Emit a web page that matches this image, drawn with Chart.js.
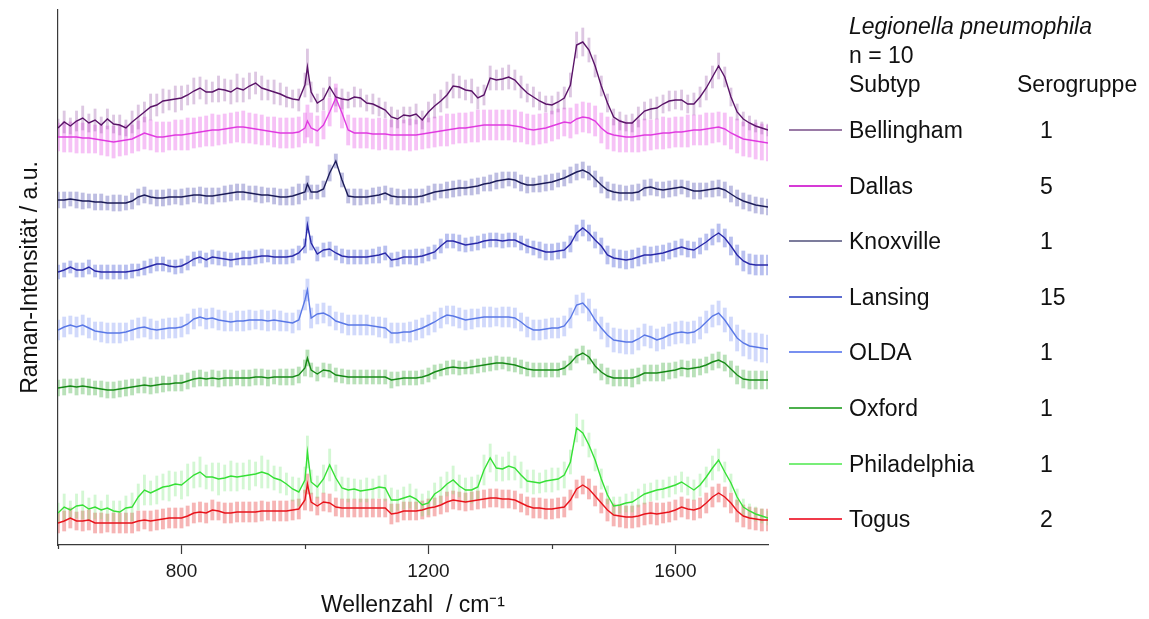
<!DOCTYPE html>
<html>
<head>
<meta charset="utf-8">
<title>Legionella pneumophila – Raman</title>
<script src="https://cdn.jsdelivr.net/npm/chart.js@4.4.1/dist/chart.umd.min.js"></script>
<style>
  html, body { margin: 0; padding: 0; background: #fff; }
  #wrap { position: relative; width: 1149px; height: 619px; font-family: 'Liberation Sans', Arial, sans-serif; color: #111; }
  #spectra { position: absolute; left: 0; top: 0; }
  .lg { position: absolute; font-size: 23px; line-height: 23px; white-space: nowrap; }
  .lg-line { position: absolute; height: 0; border-top: 2px solid; width: 53px; }
</style>
</head>
<body>
<div id="wrap">
  <canvas id="spectra" width="1149" height="619"></canvas>
  <div id="legend"></div>
</div>
<script>
/* Mean Raman spectra (stacked, a.u.) with ±SD bars per Legionella pneumophila subtype */

// ── Data ────────────────────────────────────────────────────

const wavenumbers = [
  600, 610, 620, 630, 640, 650, 660, 670, 680, 690,
  700, 710, 720, 730, 740, 750, 760, 770, 780, 790,
  800, 810, 820, 830, 840, 850, 860, 870, 880, 890,
  900, 910, 920, 930, 940, 950, 960, 970, 980, 990,
  1000, 1004,
  1010, 1020, 1030, 1040, 1050, 1060, 1070, 1080, 1090,
  1100, 1110, 1120, 1130, 1140, 1150, 1160, 1170, 1180, 1190,
  1200, 1210, 1220, 1230, 1240, 1250, 1260, 1270, 1280, 1290,
  1300, 1310, 1320, 1330, 1340, 1350, 1360, 1370, 1380, 1390,
  1400, 1410, 1420, 1430, 1440, 1450, 1460, 1470, 1480, 1490,
  1500, 1510, 1520, 1530, 1540, 1550, 1560, 1570, 1580, 1590,
  1600, 1610, 1620, 1630, 1640, 1650, 1660, 1670, 1680, 1690,
  1700, 1710, 1720, 1730, 1740, 1750
];

const bellingham = [
  417, 423, 419, 424, 427, 422, 425, 420, 426, 421,
  420, 417, 423, 428, 433, 438, 440, 444, 445, 446,
  447, 450, 454, 457, 453, 453, 456, 455, 453, 457,
  455, 459, 462, 457, 455, 453, 451, 448, 446, 445,
  460, 478,
  453, 442, 446, 458, 448, 446, 445, 448, 447,
  442, 441, 438, 435, 428, 426, 430, 429, 431, 425,
  433, 439, 444, 450, 459, 458, 455, 454, 447, 450,
  467, 465, 466, 468, 465, 458, 452, 448, 444, 441,
  440, 443, 447, 460, 500, 503, 495, 479, 459, 442,
  428, 424, 422, 422, 428, 434, 436, 437, 441, 444,
  445, 445, 441, 441, 448, 457, 468, 479, 468, 448,
  433, 426, 422, 419, 417, 415
];
const sdBellingham = [
  9, 11, 8, 10, 12, 9, 11, 8, 10, 9,
  10, 8, 11, 12, 10, 13, 11, 12, 10, 13,
  12, 10, 13, 11, 12, 10, 13, 11, 12, 14,
  12, 13, 11, 12, 10, 12, 11, 10, 9, 11,
  12, 18,
  10, 9, 11, 10, 9, 10, 8, 10, 9,
  8, 10, 9, 8, 10, 9, 8, 9, 10, 9,
  10, 12, 11, 13, 12, 11, 10, 12, 11, 10,
  12, 10, 11, 12, 10, 11, 9, 10, 9, 8,
  9, 10, 11, 12, 13, 14, 12, 11, 10, 9,
  8, 9, 8, 9, 10, 9, 10, 11, 9, 10,
  9, 10, 9, 11, 10, 12, 11, 13, 10, 9,
  8, 7, 7, 6, 6, 6
];

const dallas = [
  408, 408, 408, 408, 407, 407, 406, 405, 404, 403,
  404, 405, 406, 409, 412, 410, 408, 408, 409, 410,
  410, 411, 412, 413, 414, 415, 415, 416, 417, 418,
  418, 417, 416, 415, 414, 413, 412, 412, 412, 413,
  417, 424,
  417, 414, 420, 433, 447, 432, 415, 412, 412,
  412, 411, 411, 411, 410, 410, 410, 410, 410, 411,
  412, 413, 414, 415, 416, 417, 417, 418, 419, 420,
  420, 420, 420, 420, 419, 418, 416, 415, 416, 417,
  419, 421, 423, 422, 426, 428, 427, 424, 417, 412,
  410, 409, 408, 408, 409, 410, 410, 411, 412, 412,
  413, 413, 414, 415, 415, 416, 417, 418, 416, 412,
  409, 406, 405, 404, 403, 402
];
const sdDallas = [
  14, 15, 15, 16, 15, 15, 14, 15, 15, 16,
  15, 15, 14, 15, 16, 15, 15, 15, 14, 15,
  15, 16, 15, 15, 15, 16, 15, 15, 15, 15,
  16, 15, 15, 15, 14, 15, 15, 15, 15, 15,
  15, 16,
  15, 15, 14, 14, 14, 15, 15, 15, 15,
  15, 15, 16, 15, 15, 15, 15, 16, 15, 15,
  15, 15, 15, 16, 15, 15, 15, 15, 16, 15,
  15, 15, 15, 15, 16, 15, 15, 15, 15, 15,
  15, 15, 14, 15, 15, 15, 15, 15, 15, 16,
  16, 16, 15, 15, 16, 16, 15, 15, 16, 15,
  15, 15, 16, 15, 15, 16, 15, 15, 16, 16,
  17, 17, 17, 18, 18, 18
];

const knoxville = [
  345, 345, 346, 345, 344, 344, 343, 343, 342, 342,
  342, 342, 344, 348, 350, 348, 347, 347, 348, 348,
  348, 349, 350, 350, 349, 349, 350, 351, 352, 353,
  353, 352, 351, 350, 350, 349, 348, 348, 349, 351,
  353, 361,
  353, 353, 356, 372, 384, 365, 349, 348, 348,
  348, 349, 350, 352, 349, 348, 348, 348, 348, 349,
  351, 353, 354, 355, 356, 357, 357, 358, 359, 361,
  362, 364, 365, 366, 365, 362, 360, 360, 361, 362,
  363, 365, 367, 370, 373, 375, 372, 366, 360, 355,
  353, 352, 352, 352, 353, 357, 358, 356, 355, 356,
  357, 358, 356, 354, 354, 355, 356, 357, 355, 351,
  347, 344, 342, 340, 339, 338
];
const sdKnoxville = [
  8, 8, 7, 8, 8, 7, 8, 8, 7, 8,
  8, 7, 8, 8, 8, 7, 8, 8, 8, 7,
  8, 8, 7, 8, 8, 8, 7, 8, 8, 8,
  8, 7, 8, 8, 7, 8, 8, 8, 9, 10,
  8, 8,
  7, 7, 8, 8, 7, 7, 7, 8, 8,
  7, 8, 8, 7, 8, 8, 7, 8, 8, 7,
  8, 8, 7, 8, 8, 8, 7, 8, 8, 7,
  8, 8, 8, 7, 8, 8, 8, 7, 8, 8,
  8, 7, 8, 8, 8, 8, 7, 8, 8, 8,
  8, 8, 7, 8, 8, 8, 8, 7, 8, 8,
  8, 7, 8, 8, 8, 7, 8, 8, 8, 8,
  8, 8, 8, 8, 8, 8
];

const lansing = [
  273, 275, 278, 275, 275, 278, 274, 273, 273, 273,
  273, 273, 274, 275, 277, 279, 281, 281, 279, 278,
  279, 282, 286, 288, 285, 288, 287, 286, 285, 286,
  287, 287, 288, 289, 289, 288, 288, 288, 289, 292,
  299, 320,
  302, 291, 295, 296, 292, 289, 288, 288, 288,
  288, 289, 290, 292, 285, 286, 288, 288, 288, 289,
  291, 293, 299, 304, 304, 302, 300, 301, 302, 304,
  305, 305, 304, 305, 305, 302, 299, 297, 295, 293,
  293, 294, 295, 301, 312, 317, 312, 305, 299, 290,
  287, 286, 285, 286, 288, 290, 290, 291, 292, 294,
  296, 298, 296, 295, 299, 303, 308, 312, 307, 299,
  290, 284, 281, 280, 280, 280
];
const sdLansing = [
  7, 7, 6, 7, 7, 7, 6, 7, 7, 7,
  7, 7, 7, 6, 7, 7, 7, 7, 6, 7,
  7, 7, 7, 6, 7, 7, 7, 7, 7, 6,
  7, 7, 7, 7, 6, 7, 7, 7, 7, 7,
  7, 8,
  7, 7, 7, 7, 7, 7, 7, 7, 7,
  7, 7, 8, 7, 7, 7, 7, 7, 8, 7,
  7, 7, 7, 7, 7, 8, 7, 7, 7, 7,
  7, 7, 7, 7, 7, 7, 7, 7, 8, 8,
  8, 8, 8, 8, 8, 8, 8, 8, 8, 9,
  9, 9, 9, 9, 9, 9, 8, 8, 8, 8,
  8, 8, 8, 8, 8, 8, 8, 9, 9, 9,
  10, 10, 10, 10, 10, 10
];

const olda = [
  215, 218, 220, 218, 220, 217, 214, 213, 212, 212,
  212, 213, 215, 217, 218, 216, 215, 216, 217, 217,
  218, 221, 226, 228, 226, 227, 225, 224, 223, 224,
  224, 225, 225, 225, 224, 225, 224, 223, 222, 225,
  245, 255,
  227, 231, 232, 229, 224, 222, 220, 220, 220,
  220, 219, 218, 217, 212, 212, 213, 213, 215, 217,
  220, 223, 227, 230, 229, 227, 225, 226, 227, 228,
  228, 228, 228, 228, 227, 223, 218, 215, 215, 216,
  217, 217, 219, 227, 240, 242, 235, 225, 217, 210,
  205, 204, 203, 203, 206, 210, 208, 205, 207, 210,
  212, 213, 212, 213, 217, 223, 229, 232, 225, 216,
  207, 202, 199, 198, 197, 196
];
const sdOlda = [
  10, 10, 9, 10, 10, 10, 9, 10, 10, 10,
  10, 9, 10, 10, 10, 10, 9, 10, 10, 10,
  10, 10, 10, 9, 10, 10, 10, 10, 9, 10,
  10, 10, 9, 10, 10, 10, 10, 9, 10, 10,
  10, 11,
  10, 10, 10, 10, 9, 10, 10, 10, 10,
  10, 9, 10, 10, 10, 10, 9, 10, 10, 10,
  10, 10, 10, 9, 10, 10, 10, 10, 9, 10,
  10, 9, 10, 10, 10, 9, 10, 10, 10, 10,
  10, 10, 10, 10, 10, 10, 11, 11, 11, 12,
  12, 12, 12, 12, 11, 11, 11, 11, 11, 11,
  11, 11, 11, 11, 11, 11, 11, 12, 12, 12,
  13, 13, 13, 14, 14, 14
];

const oxford = [
  157, 158, 159, 158, 159, 158, 157, 156, 155, 155,
  156, 157, 158, 159, 160, 159, 160, 161, 161, 162,
  162, 164, 166, 167, 166, 167, 166, 167, 167, 167,
  167, 167, 168, 168, 167, 168, 168, 168, 168, 170,
  177, 187,
  175, 171, 175, 174, 170, 169, 168, 168, 168,
  168, 168, 168, 168, 165, 166, 167, 167, 167, 168,
  170, 173, 175, 177, 178, 177, 177, 178, 179, 180,
  181, 182, 182, 181, 180, 178, 176, 175, 175, 175,
  175, 175, 177, 182, 189, 192, 188, 179, 173, 169,
  167, 167, 167, 167, 169, 172, 172, 172, 173, 174,
  175, 177, 176, 177, 178, 180, 183, 185, 182, 176,
  170, 166, 165, 165, 165, 165
];
const sdOxford = [
  8, 8, 7, 8, 8, 8, 7, 8, 8, 8,
  8, 8, 8, 7, 8, 8, 8, 8, 7, 8,
  8, 8, 8, 8, 7, 8, 8, 8, 8, 7,
  8, 8, 8, 8, 8, 7, 8, 8, 8, 8,
  8, 8,
  7, 7, 7, 7, 7, 7, 7, 7, 7,
  7, 7, 7, 7, 8, 7, 7, 7, 7, 7,
  7, 7, 6, 7, 7, 7, 6, 7, 7, 7,
  7, 7, 6, 7, 7, 7, 7, 7, 7, 7,
  7, 7, 7, 7, 7, 7, 7, 7, 8, 8,
  8, 8, 8, 9, 8, 8, 8, 8, 9, 8,
  8, 8, 8, 9, 8, 8, 8, 8, 8, 8,
  9, 9, 9, 9, 9, 9
];

const philadelphia = [
  32, 38, 35, 39, 40, 36, 38, 35, 37, 34,
  33, 37, 38, 48, 55, 52, 55, 58, 59, 61,
  60, 65, 70, 73, 68, 68, 66, 67, 69, 68,
  69, 70, 71, 73, 71, 67, 65, 61, 56, 53,
  65, 93,
  63, 58, 66, 80, 67, 57, 55, 56, 54,
  55, 56, 58, 57, 45, 45, 47, 49, 46, 40,
  42, 51, 55, 61, 65, 59, 55, 55, 58, 75,
  87, 77, 76, 79, 77, 70, 64, 63, 62, 64,
  65, 66, 70, 83, 117, 112, 100, 85, 66, 50,
  39, 40, 42, 43, 47, 51, 53, 55, 56, 58,
  60, 63, 59, 55, 60, 68, 77, 85, 73, 62,
  48, 38, 34, 31, 29, 27
];
const sdPhiladelphia = [
  10, 13, 9, 12, 14, 11, 12, 9, 13, 10,
  11, 12, 14, 13, 15, 12, 14, 13, 15, 12,
  14, 16, 13, 15, 12, 14, 16, 13, 15, 14,
  13, 15, 12, 16, 14, 12, 13, 11, 12, 14,
  13, 16,
  12, 11, 14, 16, 13, 11, 12, 10, 11,
  12, 10, 11, 13, 12, 10, 11, 12, 10, 11,
  12, 11, 13, 12, 14, 11, 12, 13, 12, 15,
  14, 13, 12, 14, 12, 13, 11, 12, 10, 11,
  12, 11, 13, 12, 14, 13, 12, 11, 10, 9,
  9, 8, 9, 10, 9, 10, 9, 10, 9, 10,
  9, 10, 9, 10, 11, 10, 12, 11, 10, 9,
  8, 8, 7, 7, 7, 7
];

const togus = [
  22, 24, 27, 24, 24, 25, 22, 22, 22, 22,
  22, 22, 22, 24, 25, 24, 25, 26, 27, 27,
  27, 29, 32, 33, 32, 35, 34, 32, 32, 33,
  33, 33, 33, 34, 34, 34, 34, 34, 35, 36,
  45, 61,
  43, 39, 43, 42, 38, 37, 37, 37, 37,
  37, 37, 37, 37, 31, 32, 34, 34, 34, 35,
  37, 38, 40, 43, 45, 44, 43, 44, 45, 46,
  47, 47, 46, 46, 45, 42, 39, 37, 37, 36,
  36, 37, 38, 45, 56, 60, 56, 49, 42, 35,
  30, 29, 28, 28, 29, 31, 32, 31, 32, 33,
  35, 38, 36, 35, 37, 42, 48, 52, 48, 42,
  34, 29, 27, 26, 25, 25
];
const sdTogus = [
  10, 10, 10, 9, 10, 10, 10, 10, 9, 10,
  10, 10, 10, 10, 9, 10, 10, 10, 10, 10,
  10, 10, 10, 10, 10, 10, 9, 10, 10, 10,
  10, 10, 10, 10, 9, 10, 10, 10, 10, 10,
  10, 10,
  9, 9, 9, 9, 9, 9, 9, 9, 9,
  9, 9, 9, 9, 10, 9, 9, 9, 9, 9,
  9, 9, 9, 10, 9, 9, 9, 9, 9, 9,
  9, 9, 9, 9, 9, 9, 9, 10, 10, 10,
  10, 10, 10, 10, 9, 9, 10, 10, 10, 11,
  11, 11, 11, 11, 11, 11, 11, 11, 10, 10,
  10, 10, 10, 10, 10, 10, 10, 9, 10, 10,
  11, 11, 11, 11, 11, 11
];

const subtypes = ['Bellingham', 'Dallas', 'Knoxville', 'Lansing', 'OLDA', 'Oxford', 'Philadelphia', 'Togus'];
const serogroups = ['1', '5', '1', '15', '1', '1', '1', '2'];

const majorTicks = [800, 1200, 1600];
const minorTicks = [600, 1000, 1400];

// ── Styling ─────────────────────────────────────────────────

const axisColor = '#3a3a3a';
const fontFamily = "'Liberation Sans', Arial, sans-serif";

const traces = [
  { mean: bellingham,   sd: sdBellingham,   line: '#5a1468', bar: 'rgba(150,80,165,0.32)',  barWidth: 2.2, key: '#9a7aa6' },
  { mean: dallas,       sd: sdDallas,       line: '#e03ce0', bar: 'rgba(236,120,236,0.45)', barWidth: 3.2, key: '#d63ad6' },
  { mean: knoxville,    sd: sdKnoxville,    line: '#1c1c58', bar: 'rgba(110,110,190,0.45)', barWidth: 3.2, key: '#7c7c9c' },
  { mean: lansing,      sd: sdLansing,      line: '#2828a8', bar: 'rgba(100,115,220,0.45)', barWidth: 3.2, key: '#5c6cd0' },
  { mean: olda,         sd: sdOlda,         line: '#5a78e6', bar: 'rgba(140,160,245,0.4)',  barWidth: 3.2, key: '#7890f0' },
  { mean: oxford,       sd: sdOxford,       line: '#178a17', bar: 'rgba(80,180,80,0.4)',    barWidth: 3.2, key: '#4cb04c' },
  { mean: philadelphia, sd: sdPhiladelphia, line: '#36e036', bar: 'rgba(110,230,110,0.3)',  barWidth: 2.2, key: '#78ee78' },
  { mean: togus,        sd: sdTogus,        line: '#e8141c', bar: 'rgba(235,90,90,0.45)',   barWidth: 3.2, key: '#f03a4a' }
];

// ── Datasets ────────────────────────────────────────────────

function sdBars(t) {
  return {
    type: 'bar',
    data: wavenumbers.map(function (w, i) { return { x: w, y: [t.mean[i] - t.sd[i], t.mean[i] + t.sd[i]] }; }),
    backgroundColor: t.bar,
    borderWidth: 0,
    barThickness: t.barWidth,
    grouped: false,
    order: 2
  };
}

function meanLine(t) {
  return {
    type: 'line',
    data: wavenumbers.map(function (w, i) { return { x: w, y: t.mean[i] }; }),
    borderColor: t.line,
    borderWidth: 1.4,
    pointRadius: 0,
    tension: 0,
    fill: false,
    order: 1
  };
}

var datasets = [];
traces.forEach(function (t) { datasets.push(sdBars(t)); });
traces.forEach(function (t) { datasets.push(meanLine(t)); });

// short unlabeled ticks between the labelled ones
const minorTickPlugin = {
  id: 'minorTicks',
  afterDraw: function (chart) {
    var xs = chart.scales.x;
    var ctx = chart.ctx;
    ctx.save();
    ctx.strokeStyle = axisColor;
    ctx.lineWidth = 1.2;
    minorTicks.forEach(function (v) {
      var px = Math.round(xs.getPixelForValue(v)) + 0.5;
      ctx.beginPath();
      ctx.moveTo(px, xs.top);
      ctx.lineTo(px, xs.top + 4);
      ctx.stroke();
    });
    ctx.restore();
  }
};

Chart.defaults.font.family = fontFamily;
Chart.defaults.color = '#1a1a1a';

new Chart(document.getElementById('spectra'), {
  type: 'line',
  data: { datasets: datasets },
  plugins: [minorTickPlugin],
  options: {
    responsive: false,
    animation: false,
    events: [],
    layout: { padding: { left: 0, top: 10, right: 381, bottom: 0 } },
    plugins: { legend: { display: false }, tooltip: { enabled: false } },
    scales: {
      x: {
        type: 'linear',
        min: 600,
        max: 1750,
        offset: false,
        afterBuildTicks: function (s) { s.ticks = majorTicks.map(function (v) { return { value: v }; }); },
        afterFit: function (s) { s.height = 74; },
        grid: { display: true, drawOnChartArea: false, offset: false, tickLength: 9, tickColor: axisColor, tickWidth: 1.2 },
        border: { display: true, color: axisColor, width: 1.2 },
        ticks: {
          autoSkip: false,
          maxRotation: 0,
          padding: 6,
          color: '#1a1a1a',
          font: { size: 19 },
          callback: function (v) { return String(v); }
        },
        title: { display: true, text: 'Wellenzahl  / cm\u207B\u00B9', color: '#111', font: { size: 23 }, padding: { top: 0, bottom: 0 } }
      },
      y: {
        min: 0,
        max: 535,
        afterFit: function (s) { s.width = 58; },
        grid: { display: false },
        border: { display: true, color: axisColor, width: 1.2 },
        ticks: { display: false },
        title: { display: true, text: 'Raman-Intensität / a.u.', color: '#111', font: { size: 23 }, padding: { top: 17, bottom: 0 } }
      }
    }
  }
});

// ── Legend block ────────────────────────────────────────────

(function buildLegend() {
  var box = document.getElementById('legend');
  function put(text, left, centerY, extra) {
    var el = document.createElement('div');
    el.className = 'lg';
    el.textContent = text;
    el.style.left = left + 'px';
    el.style.top = (centerY - 11) + 'px';
    if (extra) el.style.cssText += extra;
    box.appendChild(el);
  }
  put('Legionella pneumophila', 849, 26, 'font-style:italic;');
  put('n = 10', 849, 55);
  put('Subtyp', 849, 84);
  put('Serogruppe', 1017, 84);

  subtypes.forEach(function (name, i) {
    var cy = 130 + i * 55.6;
    var sw = document.createElement('div');
    sw.className = 'lg-line';
    sw.style.left = '789px';
    sw.style.top = (Math.round(cy) - 1) + 'px';
    sw.style.borderTopColor = traces[i].key;
    box.appendChild(sw);
    put(name, 849, cy);
    put(serogroups[i], 1040, cy);
  });
})();
</script>
</body>
</html>
